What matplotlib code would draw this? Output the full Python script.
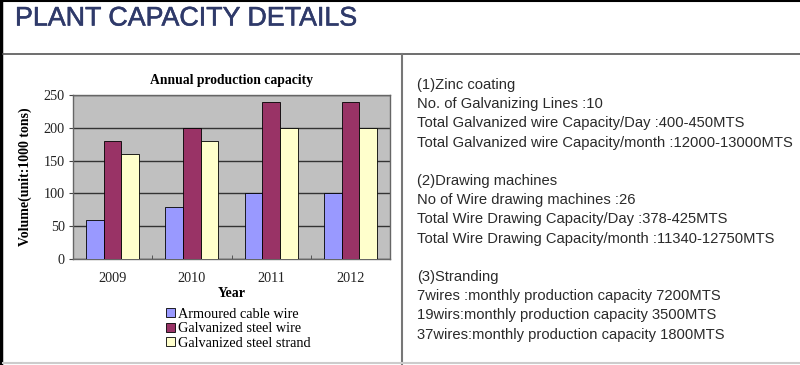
import matplotlib
matplotlib.use("Agg")
import matplotlib.pyplot as plt
import matplotlib.patheffects as pe
import numpy as np

years = ["2009", "2010", "2011", "2012"]
armoured = [60, 80, 100, 100]
galv_wire = [180, 200, 240, 240]
galv_strand = [160, 180, 200, 200]
series_names = ["Armoured cable wire", "Galvanized steel wire", "Galvanized steel strand"]
yticks = [0, 50, 100, 150, 200, 250]

info_lines = [
    "(1)Zinc coating",
    "No. of Galvanizing Lines :10",
    "Total Galvanized wire Capacity/Day :400-450MTS",
    "Total Galvanized wire Capacity/month :12000-13000MTS",
    "",
    "(2)Drawing machines",
    "No of Wire drawing machines :26",
    "Total Wire Drawing Capacity/Day :378-425MTS",
    "Total Wire Drawing Capacity/month :11340-12750MTS",
    "",
    "(3)Stranding",
    "7wires :monthly production capacity 7200MTS",
    "19wirs:monthly production capacity 3500MTS",
    "37wires:monthly production capacity 1800MTS",
]

W, H = 800, 365
fig = plt.figure(figsize=(W / 100, H / 100), dpi=100)
fig.patch.set_facecolor("white")

def fx(px):
    return px / W

def fy(py):
    return 1 - py / H

# Frame lines
from matplotlib.lines import Line2D
fig.add_artist(Line2D([0, 1], [fy(0.5), fy(0.5)], color="black", lw=1.5))
fig.add_artist(Line2D([fx(1), fx(1)], [0, 1], color="black", lw=2.5))
fig.add_artist(Line2D([fx(3), 1], [fy(53.5), fy(53.5)], color="#555555", lw=1.2))
fig.add_artist(Line2D([fx(402), fx(402)], [fy(53.5), 0], color="#777777", lw=1.5))
fig.add_artist(Line2D([fx(3), 1], [fy(363), fy(363)], color="#cccccc", lw=1.5))

# Title
fig.text(fx(15), fy(18.5), "PLANT CAPACITY DETAILS", family="Liberation Sans",
         fontsize=19.3, color="#2f3a6a", va="center", ha="left",
         path_effects=[pe.withStroke(linewidth=0.4, foreground="#2f3a6a")])

# Chart
ax = fig.add_axes([fx(73), fy(259), fx(390) - fx(73), (259 - 95) / H])
ax.set_facecolor("#c0c0c0")
x = np.arange(len(years))
w = 0.223
b1 = ax.bar(x - w, armoured, w, color="#9999ff", edgecolor="black", lw=0.6, zorder=3)
b2 = ax.bar(x, galv_wire, w, color="#993366", edgecolor="black", lw=0.6, zorder=3)
b3 = ax.bar(x + w, galv_strand, w, color="#ffffcc", edgecolor="black", lw=0.6, zorder=3)
ax.set_xlim(-0.5, len(years) - 0.5)
ax.set_ylim(0, 250)
ax.set_yticks(yticks)
ax.set_xticks(x)
ax.set_xticklabels(years)
ax.set_xticks(np.arange(len(years) + 1) - 0.5, minor=True)
ax.tick_params(axis="x", which="major", length=0, pad=9)
ax.tick_params(axis="x", which="minor", length=3, direction="in", color="#444444")
ax.tick_params(axis="y", length=3, color="#444444", pad=3)
ax.yaxis.grid(True, color="#333333", lw=1.0, zorder=1)
ax.set_axisbelow(True)
for s in ax.spines.values():
    s.set_color("#666666")
    s.set_linewidth(1.0)
for lab in ax.get_xticklabels() + ax.get_yticklabels():
    lab.set_family("Liberation Serif")
    lab.set_fontsize(10.3)
    lab.set_color("#222222")
ax.set_title("Annual production capacity", family="Liberation Serif",
             fontweight="bold", fontsize=9.8, pad=8)
ax.set_xlabel("Year", family="Liberation Serif", fontweight="bold", fontsize=10, labelpad=2)
ax.set_ylabel("Volume(unit:1000 tons)", family="Liberation Serif", fontweight="bold",
              fontsize=10, labelpad=8)

leg = fig.legend([b1, b2, b3], series_names, loc="upper left",
                 bbox_to_anchor=(fx(166), fy(308)), frameon=False,
                 prop={"family": "Liberation Serif", "size": 10.3},
                 handlelength=0.6, handleheight=0.6, handletextpad=0.25,
                 labelspacing=0.1, borderaxespad=0, borderpad=0)

# Right text
y0 = 85
for i, line in enumerate(info_lines):
    if line:
        fig.text(fx(417), fy(y0 + i * 19.2), line, family="Liberation Sans",
                 fontsize=10.6, color="#2a2a2a", va="center", ha="left")

fig.savefig("out.png", dpi=100)
